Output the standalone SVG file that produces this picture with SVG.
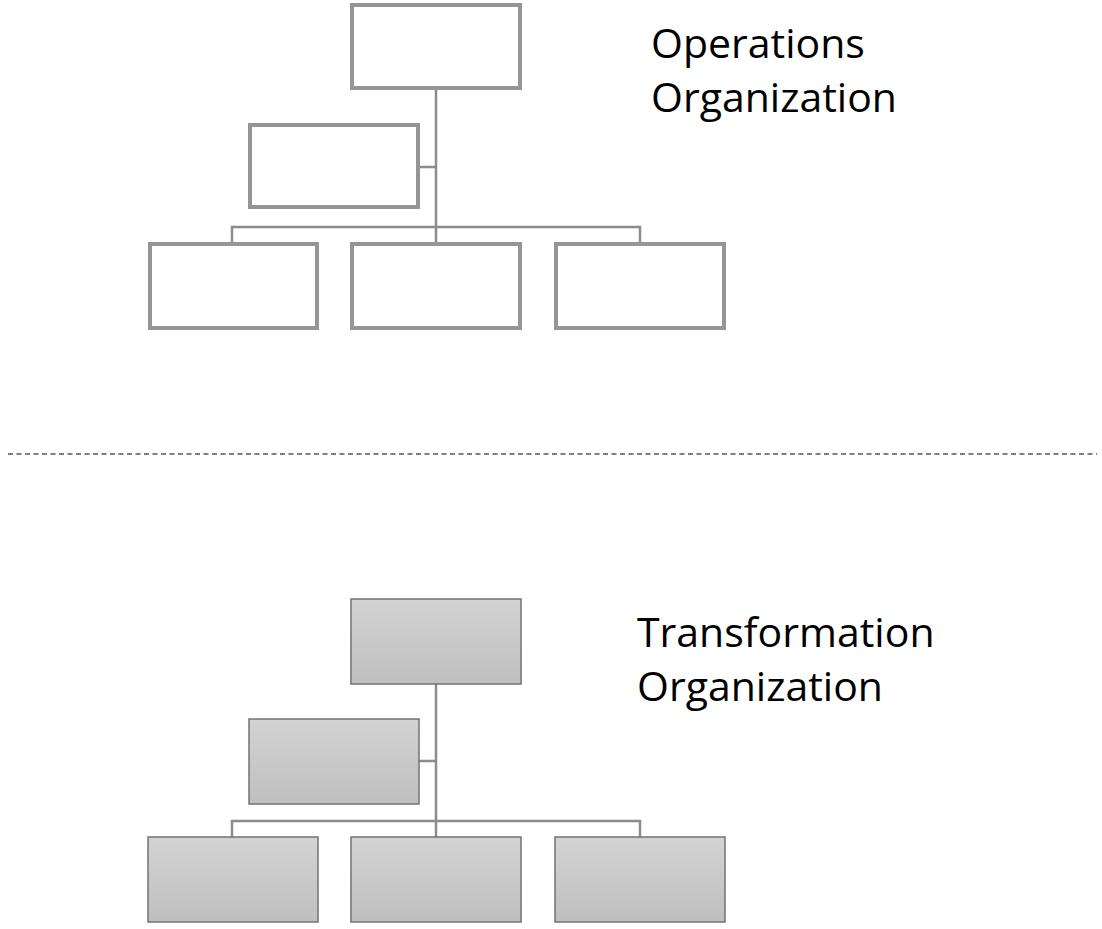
<svg xmlns="http://www.w3.org/2000/svg" width="1102" height="929" viewBox="0 0 1102 929">
<style>
.op{fill:#ffffff;stroke:#959595;stroke-width:4}
.tr{fill:url(#g);stroke:#737373;stroke-width:1.5}
.ln{fill:none;stroke:#8c8c8c;stroke-width:2.5}
.t{font-family:"Open Sans","Liberation Sans",sans-serif;font-size:41px;fill:#000}
</style>
<defs>
<linearGradient id="g" x1="0" y1="0" x2="0" y2="1">
<stop offset="0" stop-color="#d3d3d3"/>
<stop offset="1" stop-color="#bfbfbf"/>
</linearGradient>
</defs>
<g id="connectors">
<path class="ln" d="M436 88V244M418 167H436M232 244V227H640V244"/>
<path class="ln" d="M436 684V837M419 761H436M232 837V821H640V837"/>
<line x1="8" y1="454" x2="1097" y2="454" stroke="#555555" stroke-width="1.5" stroke-dasharray="5 3.5"/>
</g>
<g id="op-top"><rect class="op" x="352" y="5" width="168" height="83"/></g>
<g id="op-assistant"><rect class="op" x="250" y="125" width="168" height="82"/></g>
<g id="op-b1"><rect class="op" x="150" y="244" width="167" height="84"/></g>
<g id="op-b2"><rect class="op" x="352" y="244" width="168" height="84"/></g>
<g id="op-b3"><rect class="op" x="556" y="244" width="168" height="84"/></g>
<g id="op-label"><text class="t" x="651" y="58">Operations</text><text class="t" x="651" y="112">Organization</text></g>
<g id="tr-top"><rect class="tr" x="351" y="599" width="170" height="85"/></g>
<g id="tr-assistant"><rect class="tr" x="249" y="719" width="170" height="85"/></g>
<g id="tr-b1"><rect class="tr" x="148" y="837" width="170" height="85"/></g>
<g id="tr-b2"><rect class="tr" x="351" y="837" width="170" height="85"/></g>
<g id="tr-b3"><rect class="tr" x="555" y="837" width="170" height="85"/></g>
<g id="tr-label"><text class="t" x="637" y="647">Transformation</text><text class="t" x="637" y="701">Organization</text></g>
</svg>
